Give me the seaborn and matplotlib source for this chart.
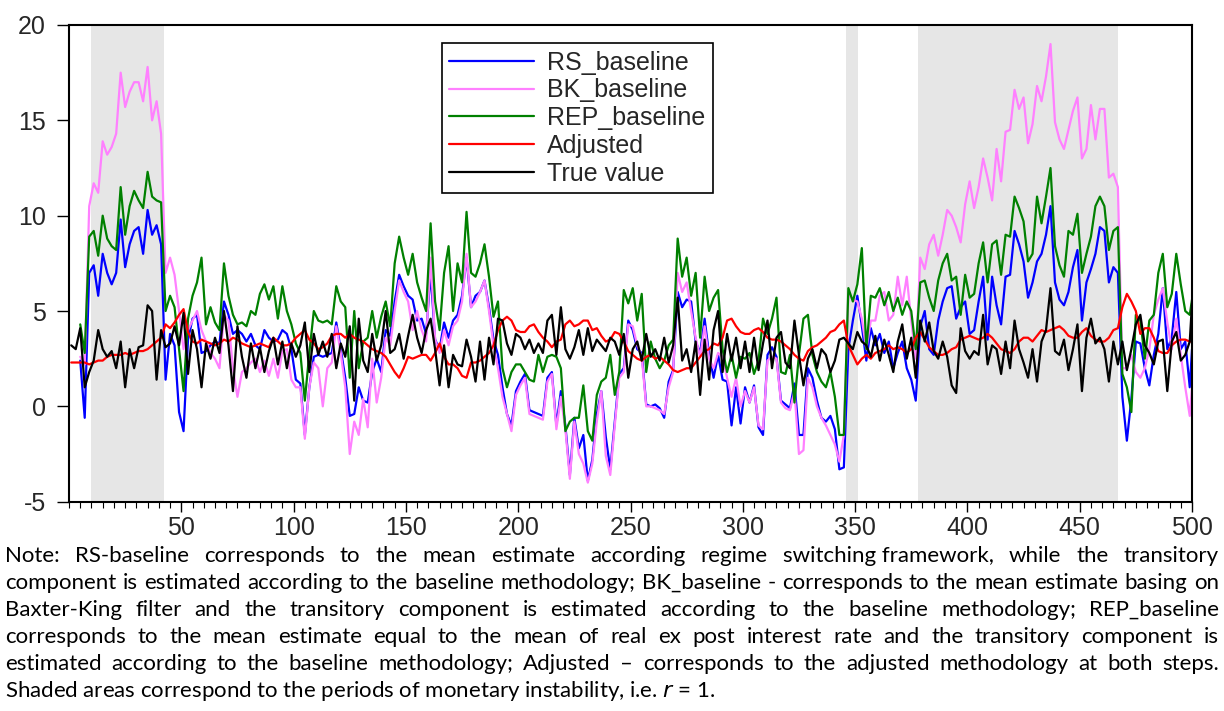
import numpy as np
import pandas as pd
import matplotlib
matplotlib.use("Agg")
import matplotlib.pyplot as plt
import seaborn as sns
from matplotlib.ticker import MultipleLocator

nan = np.nan

x_obs = list(range(1, 500, 2)) + [500]

rs_baseline = [
    nan, nan, 2.4, -0.6, 7.0, 7.4, 5.8, 8.0, 7.0, 6.4,
    7.0, 9.8, 7.3, 8.5, 9.2, 9.4, 8.0, 10.3, 9.0, 9.5,
    8.5, 1.4, 3.8, 3.2, -0.3, -1.3, 3.5, 4.6, 4.8, 2.8,
    2.9, 3.2, 3.4, 3.3, 5.5, 4.8, 3.8, 4.0, 3.8, 3.4,
    3.8, 3.2, 3.0, 4.0, 3.6, 3.4, 3.5, 4.0, 3.8, 3.0,
    1.4, 1.2, -1.5, 1.0, 2.6, 2.7, 2.6, 2.7, 2.8, 4.4,
    3.0, 1.5, -0.5, -0.4, 1.0, 0.3, 0.2, 1.8, 2.5, 1.8,
    4.0, 3.7, 5.5, 6.9, 6.3, 5.8, 5.6, 4.5, 4.6, 3.8,
    7.0, 3.5, 3.0, 4.4, 3.6, 4.5, 4.8, 5.8, 7.8, 5.2,
    5.8, 6.0, 6.6, 5.2, 3.5, 2.7, 1.0, -0.4, -1.0, 0.8,
    1.3, 1.7, -0.2, -0.3, -0.4, -0.5, 1.5, 1.8, -1.0, 0.8,
    -1.0, -3.6, -0.6, -2.2, -1.5, -3.9, -2.8, -0.4, 0.8, -1.6,
    -3.3, -0.8, 1.7, 2.0, 4.5, 4.0, 3.0, 2.8, 0.1, 0.0,
    0.1, -0.1, -0.6, 1.3, 1.9, 6.0, 5.2, 5.6, 5.5, 3.4,
    2.8, 4.6, 2.7, 1.5, 2.7, 1.4, 1.3, -1.0, 1.0, -0.9,
    1.0, 0.2, 1.1, -1.1, -1.5, 2.7, 3.1, 2.6, 0.3, 0.1,
    -0.1, 1.2, -1.5, -1.5, 2.0, 1.5, 0.3, -0.6, -0.8, -0.5,
    -1.2, -3.3, -3.2, 3.0, 4.5, 5.8, 4.2, 2.4, 4.1, 3.2,
    3.8, 2.8, 3.4, 2.0, 2.8, 3.4, 2.0, 1.4, 0.3, 4.2,
    5.0, 3.0, 2.7, 4.5, 5.5, 6.2, 6.3, 4.6, 5.2, 5.5,
    3.8, 4.0, 5.5, 6.8, 3.5, 6.8, 5.3, 4.3, 6.8, 6.9,
    9.2, 8.5, 7.6, 5.7, 6.5, 7.6, 8.0, 9.0, 10.5, 6.5,
    5.6, 5.3, 6.0, 7.3, 8.2, 4.5, 6.5, 7.2, 8.0, 9.4,
    9.2, 6.5, 7.3, 7.0, 0.5, -1.8, 0.4, 3.4, 3.3, 2.0,
    1.1, 2.7, 3.8, 6.2, 3.0, 3.6, 6.0, 3.0, 3.4, 1.0,
    3.0]

bk_baseline = [
    nan, nan, 2.6, 2.2, 10.5, 11.7, 11.2, 13.9, 13.2, 13.6,
    14.3, 17.5, 15.7, 16.5, 17.0, 17.0, 16.0, 17.8, 15.0, 16.0,
    14.3, 7.0, 7.8, 6.9, 5.0, 3.0, 4.0, 4.5, 5.0, 4.0,
    3.4, 2.8, 2.5, 2.0, 4.8, 4.5, 2.0, 0.5, 1.8, 2.0,
    2.3, 2.5, 1.8, 2.4, 1.6, 2.5, 1.5, 2.9, 3.0, 1.4,
    1.0, 1.0, -1.7, 1.0, 2.3, 2.0, 0.0, 2.0, 2.3, 4.2,
    2.8, 1.0, -2.5, -0.8, -1.5, 0.4, -1.1, 2.5, 0.2, 1.5,
    3.6, 3.2, 5.0, 6.6, 6.0, 5.5, 4.0, 5.0, 4.0, 3.4,
    7.8, 3.5, 2.8, 4.0, 3.2, 4.2, 4.5, 5.5, 8.0, 5.2,
    5.5, 6.0, 6.6, 5.0, 3.2, 2.0, 0.5, -0.4, -1.3, 0.6,
    1.1, 1.5, -0.4, -0.5, -0.6, -0.7, 1.3, 1.7, -1.2, 0.5,
    -1.2, -3.8, -0.8, -2.5, -3.0, -4.0, -3.0, -0.8, 0.8, -2.6,
    -3.6, -1.0, 1.5, 1.8, 4.3, 4.2, 3.2, 2.6, 0.0, 0.0,
    -0.1, -0.2, -0.4, 1.0, 1.8, 7.0, 6.0, 6.5, 5.0, 3.6,
    2.6, 4.2, 2.5, 2.0, 2.8, 2.6, 1.5, 0.5, 1.5, 0.0,
    0.8, 0.2, 1.0, -1.0, -1.2, 2.4, 2.6, 2.5, 0.2, -0.1,
    -0.2, 0.8, -2.5, -2.3, 1.5, 1.0, 0.0, -0.6, -1.0, -1.5,
    -2.0, -2.9, -1.5, 5.9, 5.6, 5.5, 4.6, 3.0, 4.5, 4.5,
    5.8, 6.0, 4.5, 4.8, 6.8, 5.3, 6.8, 4.5, 2.5, 7.8,
    7.2, 8.5, 9.0, 7.9, 9.0, 10.3, 10.0, 9.4, 8.6, 10.6,
    11.8, 10.4, 11.5, 13.0, 12.0, 10.8, 13.5, 11.8, 14.4, 14.5,
    16.6, 15.6, 16.2, 13.8, 14.8, 16.8, 16.0, 17.3, 19.0, 14.9,
    14.0, 13.5, 14.5, 15.5, 16.2, 13.0, 13.5, 15.8, 14.0, 15.6,
    15.6, 12.0, 12.2, 11.5, 2.0, 2.0, 2.7, 1.8, 1.5, 2.0,
    3.0, 4.8, 5.6, 6.2, 4.4, 3.0, 4.6, 2.7, 1.0, -0.5,
    1.0]

rep_baseline = [
    nan, nan, 4.3, 2.8, 8.9, 9.2, 7.9, 10.0, 8.8, 8.4,
    8.2, 11.5, 9.0, 10.5, 11.3, 10.8, 10.4, 12.3, 11.0, 10.8,
    10.7, 5.0, 5.8, 5.2, 3.0, 0.8, 4.6, 5.8, 6.5, 7.8,
    4.3, 5.2, 4.4, 4.0, 7.5, 5.8, 4.8, 4.3, 4.4, 4.2,
    5.0, 4.8, 5.9, 6.4, 5.6, 6.3, 4.6, 6.3, 5.0, 4.3,
    3.3, 2.8, 0.3, 2.8, 5.0, 4.5, 4.4, 4.5, 4.3, 6.3,
    5.5, 5.2, 1.5, 5.0, 2.0, 3.4, 3.6, 5.0, 3.6, 4.7,
    5.5, 4.2, 7.5, 8.9, 7.8, 6.9, 8.0, 6.5, 5.7, 5.0,
    9.6, 5.5, 4.0, 7.0, 8.4, 5.0, 7.5, 6.5, 10.2, 7.0,
    6.8, 7.5, 8.5, 6.8, 4.7, 5.5, 2.0, 1.0, 1.8, 2.2,
    2.2, 1.8, 1.4, 1.3, 2.7, 1.8, 2.6, 2.7, 2.6, 2.0,
    -1.3, -0.8, -0.6, -0.6, 1.1, -1.3, -1.8, 0.6, 1.3, 1.5,
    2.7, 0.6, 1.8, 6.1, 5.4, 6.2, 4.5, 5.9, 1.8, 3.4,
    2.5, 2.0, 2.4, 3.2, 3.5, 8.8, 6.8, 7.8, 5.8, 7.0,
    3.6, 6.8, 5.0, 5.7, 6.1, 3.0, 1.8, 2.7, 1.5, 2.6,
    2.5, 2.8, 1.7, 2.4, 4.6, 3.8, 4.6, 5.7, 1.8, 1.7,
    2.7, 0.2, 2.7, 4.6, 4.8, 2.7, 1.8, 1.3, 1.0, 1.8,
    0.5, -1.5, -1.5, 6.2, 5.5, 6.4, 8.3, 3.0, 5.8, 5.7,
    6.2, 5.3, 6.0, 5.0, 5.7, 4.8, 5.5, 5.0, 3.0, 6.5,
    6.6, 5.7, 5.0, 6.6, 7.5, 8.0, 6.6, 6.8, 4.8, 6.9,
    5.7, 5.9, 7.5, 8.6, 6.5, 8.5, 8.7, 6.9, 9.0, 8.9,
    11.0, 10.4, 9.7, 7.6, 8.0, 11.0, 9.6, 11.0, 12.5, 8.4,
    7.4, 6.8, 9.2, 9.0, 10.1, 7.0, 8.0, 8.9, 10.5, 11.0,
    10.5, 8.2, 9.2, 9.4, 1.7, 1.0, -0.3, 4.8, 4.5, 2.5,
    4.5, 4.8, 7.0, 8.0, 5.2, 5.9, 8.0, 6.4, 5.0, 4.8,
    5.6]

adjusted = [
    2.3, 2.3, 2.3, 2.3, 2.2, 2.3, 2.4, 2.4, 2.6, 2.7,
    2.7, 2.7, 2.8, 2.7, 2.8, 2.9, 2.9, 3.0, 3.2, 3.4,
    3.6, 4.3, 4.1, 4.4, 4.8, 5.1, 3.9, 3.4, 3.3, 3.5,
    3.4, 3.3, 3.2, 3.3, 3.5, 3.4, 3.6, 3.5, 3.3, 3.2,
    3.1, 3.2, 3.3, 3.2, 3.1, 3.6, 3.4, 3.2, 3.2, 3.3,
    3.6, 3.8, 4.0, 3.5, 3.3, 3.0, 3.1, 3.3, 3.7, 3.8,
    3.8, 3.6, 3.8, 3.6, 3.5, 3.4, 3.2, 3.0, 2.9, 2.8,
    2.6, 2.2, 1.8, 1.5, 2.0, 2.6, 2.5, 2.6, 2.7, 2.7,
    2.4, 2.8, 3.3, 2.6, 2.2, 2.2, 2.0, 1.6, 1.5, 2.3,
    2.3, 2.4, 2.6, 2.8, 3.2, 4.0, 4.5, 4.7, 4.5, 4.0,
    3.9, 3.9, 4.2, 4.3, 3.9, 3.6, 3.4, 3.1, 3.4, 3.5,
    4.3, 4.5, 4.2, 4.3, 4.5, 4.5, 4.0, 4.1, 3.7, 3.4,
    3.5, 3.9, 3.8, 3.4, 2.9, 2.7, 2.5, 2.4, 2.6, 2.7,
    2.5, 2.6, 2.4, 2.2, 1.9, 1.8, 1.9, 2.0, 2.0, 2.3,
    2.6, 2.9, 3.0, 3.3, 3.2, 3.6, 4.5, 4.6, 4.2, 3.9,
    3.8, 3.8, 4.0, 4.1, 3.9, 3.6, 3.5, 3.5, 3.4, 3.2,
    3.0, 2.7, 2.5, 2.4, 2.9, 3.1, 3.2, 3.4, 3.6, 3.9,
    4.0, 4.3, 4.5, 3.2, 2.7, 2.2, 2.5, 2.7, 2.5, 2.8,
    2.9, 3.0, 3.2, 3.0, 3.1, 3.0, 2.8, 3.0, 3.6, 3.9,
    3.5, 3.1, 2.9, 2.7, 2.7, 2.8, 3.0, 3.1, 3.5, 3.6,
    3.7, 3.6, 3.5, 3.6, 3.8, 3.6, 3.3, 3.0, 2.9, 2.8,
    3.0, 3.4, 3.6, 3.6, 3.4, 3.7, 4.0, 3.9, 4.0, 4.1,
    4.2, 4.0, 3.7, 3.6, 3.6, 3.9, 4.1, 3.7, 3.5, 3.4,
    3.4, 3.6, 4.0, 4.1, 5.2, 5.9, 5.5, 5.0, 3.8, 4.1,
    4.1, 3.6, 2.9, 2.8, 2.8, 3.2, 3.4, 3.5, 3.5, 3.4,
    3.4]

true_value = [
    3.2, 3.0, 4.1, 1.0, 1.8, 2.4, 4.0, 3.0, 2.6, 2.9,
    2.0, 3.4, 1.0, 3.0, 2.0, 3.1, 3.2, 5.3, 5.0, 1.4,
    4.0, 3.1, 3.3, 4.2, 3.2, 4.9, 1.7, 4.0, 3.0, 1.0,
    3.3, 2.5, 3.6, 2.8, 5.0, 3.2, 0.8, 4.2, 2.6, 1.5,
    3.3, 2.0, 3.1, 1.8, 2.9, 3.6, 2.2, 3.4, 2.0, 3.3,
    2.6, 3.2, 4.4, 1.8, 3.8, 2.7, 3.4, 2.6, 3.8, 2.0,
    3.3, 2.6, 4.2, 0.3, 4.6, 2.4, 1.8, 3.8, 2.4, 3.2,
    5.0, 2.8, 3.0, 3.8, 2.5, 3.7, 4.8, 3.6, 2.8, 4.0,
    4.6, 3.0, 1.1, 3.2, 1.0, 2.7, 2.2, 2.1, 3.5, 2.6,
    1.3, 3.4, 1.4, 3.6, 2.2, 4.6, 4.5, 3.3, 2.7, 3.8,
    3.6, 3.0, 3.5, 2.8, 3.3, 2.8, 4.5, 4.8, 2.7, 5.2,
    3.0, 2.5, 3.1, 4.0, 2.7, 4.1, 2.9, 3.5, 3.2, 2.9,
    3.6, 3.4, 2.7, 3.8, 1.5, 3.0, 3.4, 2.4, 3.8, 2.6,
    3.0, 2.4, 3.6, 2.3, 3.2, 5.7, 2.4, 3.0, 1.8, 3.4,
    0.6, 3.5, 1.4, 4.0, 5.0, 1.8, 3.8, 2.4, 3.6, 2.0,
    3.4, 1.8, 3.6, 1.9, 3.3, 4.5, 2.0, 3.6, 3.9, 2.3,
    2.0, 4.5, 2.7, 1.1, 2.5, 3.0, 2.0, 3.0, 2.7, 1.8,
    2.4, 3.5, 3.6, 3.3, 3.0, 3.9, 3.4, 3.2, 2.6, 3.7,
    2.4, 3.5, 2.7, 1.8, 3.4, 4.3, 2.5, 3.6, 1.5, 4.5,
    3.4, 4.4, 2.9, 2.5, 3.4, 2.6, 1.1, 0.7, 4.1, 2.9,
    2.5, 2.9, 2.7, 4.8, 2.2, 3.2, 3.0, 1.7, 3.4, 2.0,
    4.5, 3.0, 2.3, 1.5, 3.0, 1.3, 3.4, 4.0, 6.2, 2.9,
    2.7, 3.5, 1.9, 3.0, 4.3, 0.8, 3.6, 4.6, 3.3, 3.6,
    3.0, 1.3, 3.4, 2.2, 3.4, 1.9, 3.0, 4.3, 4.8, 3.2,
    2.8, 2.2, 3.4, 3.5, 0.8, 3.4, 3.9, 2.4, 2.7, 3.4,
    5.4]

# periods of monetary instability (r = 1)
instability_periods = [(9.6, 42.4), (346.1, 351.4), (378.1, 467.0)]

series_names = ["RS_baseline", "BK_baseline", "REP_baseline", "Adjusted", "True value"]
series_colors = ["#0000FF", "#FF80FF", "#008000", "#FF0000", "#000000"]

x_ticks = [50, 100, 150, 200, 250, 300, 350, 400, 450, 500]
y_ticks = [-5, 0, 5, 10, 15, 20]

note_lines = [
    "Note: RS-baseline corresponds to the mean estimate according regime switching framework, while the transitory",
    "component is estimated according to the baseline methodology; BK_baseline - corresponds to the mean estimate basing on",
    "Baxter-King filter and the transitory component is estimated according to the baseline methodology; REP_baseline",
    "corresponds to the mean estimate equal to the mean of real ex post interest rate and the transitory component is",
    "estimated according to the baseline methodology; Adjusted \u2013 corresponds to the adjusted methodology at both steps.",
    "Shaded areas correspond to the periods of monetary instability, i.e. $r$ = 1.",
]

df = pd.DataFrame({
    "obs": x_obs,
    "RS_baseline": rs_baseline,
    "BK_baseline": bk_baseline,
    "REP_baseline": rep_baseline,
    "Adjusted": adjusted,
    "True value": true_value,
})

sns.set_theme(style="ticks")
plt.rcParams["font.family"] = ["Liberation Sans", "DejaVu Sans"]
plt.rcParams["mathtext.fontset"] = "dejavusans"

note_family = "Lato"

W, H = 1224, 711
fig = plt.figure(figsize=(W / 100, H / 100), dpi=100)
fig.patch.set_facecolor("white")
ax = fig.add_axes([69 / W, 1 - 501.7 / H, (1192 - 69) / W, (501.7 - 25) / H])
ax.set_facecolor("white")

for a, b in instability_periods:
    ax.axvspan(a, b, color="#E6E6E6", lw=0, zorder=0)

for name, col in zip(series_names, series_colors):
    sns.lineplot(data=df, x="obs", y=name, color=col, lw=1.6, ax=ax,
                 label=name, estimator=None, sort=False)

ax.set_xlim(0, 500)
ax.set_ylim(-5, 20)
ax.set_xticks(x_ticks)
ax.set_xticklabels([str(t) for t in x_ticks])
ax.xaxis.set_minor_locator(MultipleLocator(5))
ax.set_yticks(y_ticks)
ax.set_yticklabels([str(t) for t in y_ticks])
ax.set_xlabel("")
ax.set_ylabel("")
ax.tick_params(axis="x", which="major", direction="out", length=7.5, width=1.0,
               labelsize=18, pad=3, color="black")
ax.tick_params(axis="x", which="minor", direction="out", length=4, width=0.8, color="black")
ax.tick_params(axis="y", which="major", direction="out", length=8.5, width=1.0,
               labelsize=18, pad=8, color="black")
for s in ax.spines.values():
    s.set_visible(True)
    s.set_linewidth(1.5)
    s.set_color("black")

leg = ax.legend(loc="upper left", bbox_to_anchor=(0.332, 0.962), borderaxespad=0,
                frameon=True, fancybox=False, edgecolor="black", framealpha=1,
                fontsize=18, handlelength=3.4, handletextpad=0.5,
                labelspacing=0.15, borderpad=0.3)
leg.get_frame().set_linewidth(1.2)
for ln in leg.get_lines():
    ln.set_linewidth(1.6)

# --- justified note text below the chart (one text per word) ---
left_px, right_px = 5, 1219
avail = right_px - left_px
fig.canvas.draw()
renderer = fig.canvas.get_renderer()


def text_width(s, size):
    t = fig.text(0, 0, s, fontsize=size, family=note_family)
    w = t.get_window_extent(renderer).width
    t.remove()
    return w


fs = 17.5
maxw = max(text_width(line, fs) for line in note_lines[:-1])
if maxw > avail * 0.99:
    fs = fs * avail * 0.99 / maxw

DESC = set("gjpqy;()[]")


def word_groups(line):
    # a word whose lowest glyph is only a comma is kept together with the
    # previous word so that every text piece sits on the same baseline
    words = line.split(" ")
    groups = []
    for w in words:
        if groups and w.endswith(",") and not (set(w) & DESC):
            groups[-1] = groups[-1] + " " + w
        else:
            groups.append(w)
    return groups


y0 = 562
dy = 27
for i, line in enumerate(note_lines):
    yf = 1 - (y0 + i * dy) / H
    if i == len(note_lines) - 1:
        fig.text(left_px / W, yf, line, fontsize=fs, family=note_family,
                 va="baseline", ha="left", color="black")
        continue
    groups = word_groups(line)
    texts = [fig.text(0, yf, g, fontsize=fs, family=note_family, va="baseline",
                      ha="left", color="black") for g in groups]
    widths = [t.get_window_extent(renderer).width for t in texts]
    gap = (avail - sum(widths)) / (len(groups) - 1)
    xpx = left_px
    for t, wdt in zip(texts, widths):
        t.set_x(xpx / W)
        xpx += wdt + gap

fig.savefig("out.png", dpi=100, facecolor="white")
